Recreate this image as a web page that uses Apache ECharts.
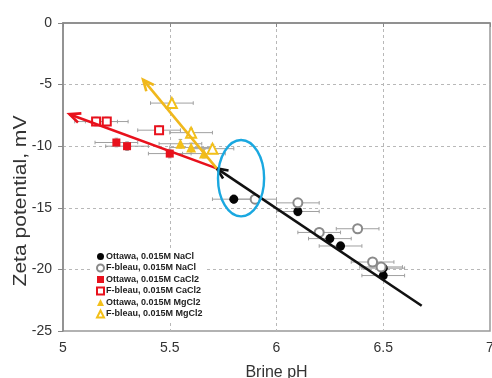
<!DOCTYPE html>
<html><head><meta charset="utf-8">
<script src="https://cdn.jsdelivr.net/npm/echarts@6/dist/echarts.min.js"></script>
<style>html,body{margin:0;padding:0;background:#fff}#c{width:492px;height:378px}</style>
</head><body><div id="c"></div>
<script>
// ---- data ----
const xTicks = [5, 5.5, 6, 6.5, 7];
const yTicks = [-25, -20, -15, -10, -5, 0];
const ottawaNaCl  = [[5.80,-14.3],[6.10,-15.3],[6.25,-17.5],[6.30,-18.1],[6.50,-19.9],[6.50,-20.5]];
const fbleauNaCl  = [[5.90,-14.3],[6.10,-14.6],[6.20,-17.0],[6.38,-16.7],[6.45,-19.4],[6.49,-19.8]];
const ottawaCaCl2 = [[5.25,-9.7],[5.30,-10.0],[5.50,-10.6]];
const fbleauCaCl2 = [[5.155,-8.0],[5.205,-8.0],[5.45,-8.7]];
const ottawaMgCl2 = [[5.55,-9.8],[5.60,-10.1],[5.66,-10.6]];
const fbleauMgCl2 = [[5.51,-6.5],[5.60,-8.9],[5.70,-10.2]];
const errX = [0.1];   // pH error (±)
const errY = [0.35];  // mV error (±)
// arrows: [xStart, yStart, xEnd(tip), yEnd(tip)]
const arrowBlack  = [[6.68,-22.95,5.72,-11.8]];
const arrowRed    = [[5.72,-11.8,5.03,-7.4]];
const arrowYellow = [[5.72,-11.8,5.375,-4.6]];
// ellipse: [cx, cy, rx(pH), ry(mV)]
const ellipseMark = [[5.834,-12.6,0.108,3.1]];

const names = ['Ottawa, 0.015M NaCl','F-bleau, 0.015M NaCl','Ottawa, 0.015M CaCl2','F-bleau, 0.015M CaCl2','Ottawa, 0.015M MgCl2','F-bleau, 0.015M MgCl2'];

const chart = echarts.init(document.getElementById('c'), null, {renderer:'canvas'});

function errItem(params, api){
  const x = api.value(0), y = api.value(1);
  const ex = errX[0], ey = errY[0];
  const l = api.coord([x-ex,y]), r = api.coord([x+ex,y]);
  const t = api.coord([x,y+ey]), b = api.coord([x,y-ey]);
  const c = 1.8;
  const st = {stroke:'#a0a0a0', lineWidth:1};
  const ln = (x1,y1,x2,y2)=>({type:'line',shape:{x1,y1,x2,y2},style:st});
  return {type:'group',children:[
    ln(l[0],l[1],r[0],r[1]),
    ln(l[0],l[1]-c,l[0],l[1]+c),
    ln(r[0],r[1]-c,r[0],r[1]+c),
    ln(t[0],t[1],b[0],b[1]),
    ln(t[0]-c,t[1],t[0]+c,t[1]),
    ln(b[0]-c,b[1],b[0]+c,b[1])
  ]};
}
function errSeries(data){
  return {type:'custom', renderItem:errItem, data:data, z:1, silent:true,
    encode:{x:0,y:1}, clip:false};
}
function arrowSeries(data,color){
  return {type:'custom', z:5, silent:true, clip:false, data:data,
    encode:{x:[0,2], y:[1,3]},
    renderItem:function(params, api){
      const p1 = api.coord([api.value(0),api.value(1)]);
      const p2 = api.coord([api.value(2),api.value(3)]);
      const ang = Math.atan2(p1[1]-p2[1], p1[0]-p2[0]);
      const L = 12, a = 0.42;
      const h1 = [p2[0]+L*Math.cos(ang+a), p2[1]+L*Math.sin(ang+a)];
      const h2 = [p2[0]+L*Math.cos(ang-a), p2[1]+L*Math.sin(ang-a)];
      const st = {stroke:color, lineWidth:2.6, lineCap:'butt', lineJoin:'miter', fill:null};
      return {type:'group',children:[
        {type:'line',shape:{x1:p1[0],y1:p1[1],x2:p2[0],y2:p2[1]},style:st},
        {type:'polyline',shape:{points:[h1,p2,h2]},style:st}
      ]};
    }};
}

const option = {
  animation:false,
  textStyle:{fontFamily:'Liberation Sans, Arial, sans-serif'},
  grid:{left:63, right:2, top:23, bottom:47, outerBoundsMode:'none', containLabel:false,
    show:true, borderColor:'#999', borderWidth:1.5, backgroundColor:'transparent'},
  xAxis:{type:'value', min:xTicks[0], max:xTicks[xTicks.length-1], interval:0.5,
    axisLine:{lineStyle:{color:'#888', width:1.5}},
    axisTick:{show:true, length:4, lineStyle:{color:'#888'}},
    axisLabel:{fontSize:14, color:'#333', margin:10},
    splitLine:{show:true, showMinLine:false, showMaxLine:false, lineStyle:{color:'#b8b8b8', type:[3,3], width:1}},
    name:'Brine pH', nameLocation:'middle', nameGap:34,
    nameTextStyle:{fontSize:16, color:'#333'}},
  yAxis:{type:'value', min:yTicks[0], max:yTicks[yTicks.length-1], interval:5,
    axisLine:{show:true, lineStyle:{color:'#888', width:1.5}},
    axisTick:{show:true, length:5, lineStyle:{color:'#888'}},
    axisLabel:{fontSize:14, color:'#333', margin:11},
    splitLine:{show:true, showMinLine:false, showMaxLine:false, lineStyle:{color:'#b8b8b8', type:[3,3], width:1}}},
  graphic:[{type:'text', x:21, y:201, rotation:Math.PI/2, scaleX:1.17,
    style:{text:'Zeta potential, mV', fontSize:18, fontFamily:'Liberation Sans, Arial, sans-serif', fill:'#333',
      align:'center', verticalAlign:'middle', textAlign:'center', textVerticalAlign:'middle'}}],
  legend:{orient:'vertical', left:93, top:250, backgroundColor:'#fff', padding:[2,3,2,3],
    itemGap:2.5, itemWidth:7, itemHeight:7, data:names,
    textStyle:{fontSize:9, fontWeight:'bold', color:'#222', lineHeight:9, padding:[0,0,0,-3]}},
  series:[
    errSeries(ottawaNaCl), errSeries(fbleauNaCl), errSeries(ottawaCaCl2),
    errSeries(fbleauCaCl2), errSeries(ottawaMgCl2), errSeries(fbleauMgCl2),
    {name:names[0], type:'scatter', data:ottawaNaCl, symbol:'circle', symbolSize:9, z:3,
      itemStyle:{color:'#050505', opacity:1}},
    {name:names[1], type:'scatter', data:fbleauNaCl, symbol:'emptyCircle', symbolSize:9, z:3,
      itemStyle:{color:'#8a8a8a', borderWidth:1.5, opacity:1}},
    {name:names[2], type:'scatter', data:ottawaCaCl2, symbol:'rect', symbolSize:8, z:3,
      itemStyle:{color:'#e8111c', opacity:1}},
    {name:names[3], type:'scatter', data:fbleauCaCl2, symbol:'emptyRect', symbolSize:8, z:3,
      itemStyle:{color:'#e8111c', borderWidth:1.3, opacity:1}},
    {name:names[4], type:'scatter', data:ottawaMgCl2, symbol:'triangle', symbolSize:10, z:3,
      itemStyle:{color:'#f3c01a', opacity:1}},
    {name:names[5], type:'scatter', data:fbleauMgCl2, symbol:'emptyTriangle', symbolSize:10, z:3,
      itemStyle:{color:'#f3c01a', borderWidth:1.3, opacity:1}},
    arrowSeries(arrowBlack,'#111'),
    arrowSeries(arrowRed,'#e8111c'),
    arrowSeries(arrowYellow,'#f0b81c'),
    {type:'custom', z:6, silent:true, clip:false, data:ellipseMark, encode:{x:0,y:1},
      renderItem:function(params, api){
        const c = api.coord([api.value(0),api.value(1)]);
        const s = api.size([api.value(2),api.value(3)]);
        return {type:'ellipse', shape:{cx:c[0], cy:c[1], rx:s[0], ry:s[1]},
          style:{fill:null, stroke:'#1aa8e0', lineWidth:2.4}};
      }}
  ]
};
chart.setOption(option);
</script></body></html>
